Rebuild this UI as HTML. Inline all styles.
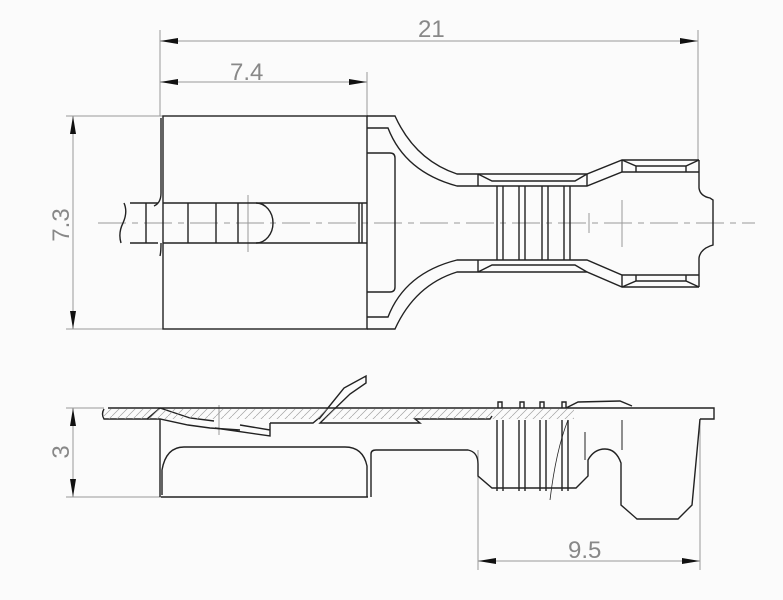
<!DOCTYPE html>
<html><head><meta charset="utf-8"><style>
html,body{margin:0;padding:0;background:#fbfbfb;}
svg{display:block}
text{font-family:"Liberation Sans",sans-serif;fill:#888;font-size:24px;}
</style></head><body>
<svg width="783" height="600" viewBox="0 0 783 600" xmlns="http://www.w3.org/2000/svg">
<defs>
<marker id="a" viewBox="0 0 18 6" refX="18" refY="3" markerWidth="18" markerHeight="6" markerUnits="userSpaceOnUse" orient="auto-start-reverse"><path d="M18,3 L0,0 L0,6 Z" fill="#111"/></marker>
<pattern id="h" width="8" height="8" patternUnits="userSpaceOnUse"><path d="M0,8 L8,0" stroke="#999" stroke-width="0.7"/></pattern>
</defs>
<g stroke="#999" stroke-width="1" fill="none">
<line x1="160" y1="30" x2="160" y2="116"/>
<line x1="698" y1="30" x2="698" y2="160"/>
<line x1="367" y1="72" x2="367" y2="116"/>
<line x1="160" y1="41" x2="698" y2="41" marker-start="url(#a)" marker-end="url(#a)"/>
<line x1="160" y1="82" x2="367" y2="82" marker-start="url(#a)" marker-end="url(#a)"/>
<line x1="66" y1="116" x2="163" y2="116"/>
<line x1="66" y1="329" x2="163" y2="329"/>
<line x1="73" y1="116" x2="73" y2="329" marker-start="url(#a)" marker-end="url(#a)"/>
<line x1="66" y1="408" x2="104" y2="408"/>
<line x1="66" y1="497" x2="161" y2="497"/>
<line x1="73" y1="408" x2="73" y2="497" marker-start="url(#a)" marker-end="url(#a)"/>
<line x1="478" y1="450" x2="478" y2="570"/>
<line x1="700" y1="419" x2="700" y2="570"/>
<line x1="478" y1="561" x2="700" y2="561" marker-start="url(#a)" marker-end="url(#a)"/>
<line x1="98" y1="223" x2="755" y2="223" stroke-dasharray="28,6,6,6"/>
<line x1="248" y1="195" x2="248" y2="252"/>
<line x1="589" y1="213" x2="589" y2="233"/>
<line x1="622" y1="200" x2="622" y2="247"/>
<line x1="219" y1="405" x2="219" y2="435"/>
</g>
<text x="418" y="37">21</text>
<text x="230" y="80">7.4</text>
<text x="568" y="558">9.5</text>
<text transform="translate(69,225) rotate(-90)" text-anchor="middle">7.3</text>
<text transform="translate(69,452) rotate(-90)" text-anchor="middle">3</text>

<g stroke="#222" stroke-width="1.4" fill="none">
<rect x="163" y="116" width="204" height="213"/>
<path d="M161,118 L161,193 Q161,203 154,206"/>
<path d="M161,243 Q161,252 160,256"/>
<path d="M130,203 L158,203 M130,243 L158,243 M146,203 L146,243"/>
<path d="M124,203 Q128,212 123,223 Q118,233 121,243"/>
<line x1="163" y1="203" x2="367" y2="203"/>
<line x1="163" y1="243" x2="367" y2="243"/>
<line x1="188" y1="203" x2="188" y2="243"/>
<line x1="216" y1="203" x2="216" y2="243"/>
<line x1="238" y1="203" x2="238" y2="243"/>
<path d="M256,203 A17,20 0 0 1 256,243"/>
<line x1="359" y1="203" x2="359" y2="243"/>
<line x1="362" y1="203" x2="362" y2="243"/>
<path d="M367,116 L395,116 Q415,160 457,174 L587,174 L622,160 L699,160"/>
<path d="M367,128 L388,128 Q405,172 457,186 L587,186 L622,172 L699,172"/>
<path d="M367,329 L395,329 Q415,285 457,272 L587,272 L622,287 L699,287"/>
<path d="M367,317 L388,317 Q405,273 457,260 L587,260 L622,275 L699,275"/>
<path d="M367,153 L390,153 Q395,153 395,158 L395,287 Q395,292 390,292 L367,292"/>
<path d="M478,174 L478,186 M478,174 L492,181 L575,181 L587,174 M587,186 L587,174"/>
<path d="M478,272 L478,260 M478,272 L492,265 L575,265 L587,272"/>
<path d="M622,160 L622,172 M622,160 L636,166 L686,166 L699,160 M636,166 L636,172 M686,166 L686,172"/>
<path d="M622,287 L622,275 M622,287 L636,281 L686,281 L699,287 M636,281 L636,275 M686,281 L686,275"/>
<path d="M497,186 V260 M503,186 V260 M519,186 V260 M525,186 V260 M542,186 V260 M548,186 V260 M564,186 V260 M570,186 V260"/>
<path d="M699,160 L699,188 Q700,196 710,198 L713,200 L713,245 L710,246 Q700,250 699,258 L699,287"/>

<path d="M108,408 L714,408 L714,419 L700,419" />
<path d="M104,409 Q101,414 104,419 L147,419 L160,408"/>
<path d="M147,419 L160,419 L188,425 L210,428 L240,430 M160,408 L190,418 L214,421"/>
<path d="M215,428 L270,436 L270,423 M240,425 L270,430"/>
<path d="M270,423 L313,423 L319,418"/>
<path d="M319,419 L344,388 L366,376 L366,383 L350,394 L320,423 L420,423 L415,419 L490,419 L492,416"/>
<path d="M160,419 L160,497 M161,497 L368,497"/>
<path d="M162,495 L162,470 Q166,447 184,447 L345,447 Q363,447 367,466 L367,497"/>
<path d="M371,497 L371,454 Q371,450 376,450 L468,450 Q478,452 478,464 L478,476 L492,488 L576,488 L588,476 L588,460 Q594,449 605,449 Q616,449 621,463 L621,505 L637,519 L678,519 L692,505 L700,419"/>
<path d="M498,408 V402 H502 V408 M520,408 V402 H524 V408 M540,408 V402 H544 V408 M562,408 V402 H566 V408 M566,408 L578,402 L620,401 L632,406"/>
<path d="M497,420 V491 M503,420 V491 M519,420 V491 M525,420 V491 M540,420 V491 M546,420 V491 M562,420 V491 M568,420 V491"/>
<path d="M585,432 V460 M622,420 V450" stroke-width="1"/>
<path d="M568,420 Q556,450 550,500" stroke-width="0.8"/>
</g>
<rect x="104" y="409" width="470" height="10" fill="url(#h)" opacity="0.9"/>
</svg>
</body></html>
